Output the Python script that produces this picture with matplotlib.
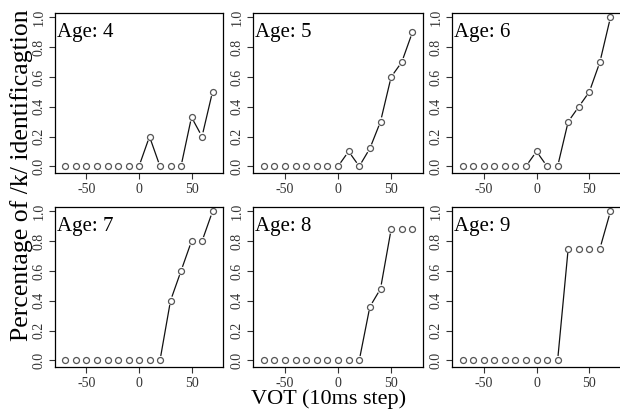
import matplotlib
matplotlib.use('Agg')
import matplotlib.pyplot as plt
import numpy as np
from matplotlib.ticker import FormatStrFormatter

plt.rcParams['font.family'] = ['Liberation Serif', 'DejaVu Serif']
plt.rcParams['axes.unicode_minus'] = False

# VOT continuum (10ms steps)
vot = [-70, -60, -50, -40, -30, -20, -10, 0, 10, 20, 30, 40, 50, 60, 70]

ages = ['4', '5', '6', '7', '8', '9']
age4 = [0, 0, 0, 0, 0, 0, 0, 0, 0.2, 0, 0, 0, 0.33, 0.2, 0.5]
age5 = [0, 0, 0, 0, 0, 0, 0, 0, 0.1, 0, 0.12, 0.3, 0.6, 0.7, 0.9]
age6 = [0, 0, 0, 0, 0, 0, 0, 0.1, 0, 0, 0.3, 0.4, 0.5, 0.7, 1.0]
age7 = [0, 0, 0, 0, 0, 0, 0, 0, 0, 0, 0.4, 0.6, 0.8, 0.8, 1.0]
age8 = [0, 0, 0, 0, 0, 0, 0, 0, 0, 0, 0.36, 0.48, 0.88, 0.88, 0.88]
age9 = [0, 0, 0, 0, 0, 0, 0, 0, 0, 0, 0.75, 0.75, 0.75, 0.75, 1.0]
series = [age4, age5, age6, age7, age8, age9]

W, H = 620, 411
col_left = [55, 253, 452]
col_width = [168, 170, 169]
row_top = [13, 207]
row_height = 160


def gapped_lines(ax, x, y, gap=5.0):
    '''draws R-style type="b" lines: segments stop short of each point'''
    pts = ax.transData.transform(np.column_stack([x, y]))
    inv = ax.transData.inverted()
    for p0, p1 in zip(pts[:-1], pts[1:]):
        d = p1 - p0
        length = np.hypot(*d)
        if length < 2 * gap + 1.5:
            continue
        u = d / length
        a = inv.transform(p0 + u * gap)
        b = inv.transform(p1 - u * gap)
        ax.plot([a[0], b[0]], [a[1], b[1]], color='#111111', lw=0.9)


fig = plt.figure(figsize=(W / 100, H / 100), dpi=100)

for i, (age, vals) in enumerate(zip(ages, series)):
    r, c = divmod(i, 3)
    left = col_left[c] / W
    bottom = 1 - (row_top[r] + row_height) / H
    ax = fig.add_axes([left, bottom, col_width[c] / W, row_height / H])
    ax.set_xlim(-80, 80)
    ax.set_ylim(-0.045, 1.03)
    ax.autoscale(False)
    gapped_lines(ax, vot, vals)
    ax.plot(vot, vals, linestyle='none', marker='o', ms=4.3, mfc='white',
            mec='#555555', mew=0.9, clip_on=False)
    ax.set_xticks([-50, 0, 50])
    ax.set_yticks([0, 0.2, 0.4, 0.6, 0.8, 1.0])
    ax.yaxis.set_major_formatter(FormatStrFormatter('%.1f'))
    ax.tick_params(direction='out', length=4, width=0.8, labelsize=10,
                   colors='#333333', pad=3)
    for lab in ax.get_yticklabels():
        lab.set_rotation(90)
        lab.set_va('center')
    for s in ax.spines.values():
        s.set_linewidth(0.9)
    ax.text(0.01, 0.94, 'Age: ' + age, transform=ax.transAxes,
            fontsize=15, va='top', ha='left')

fig.text(0.034, 0.574, 'Percentage of /k/ identificagtion', rotation=90,
         fontsize=18.5, ha='center', va='center')
fig.text(0.53, 0.029, 'VOT (10ms step)', fontsize=16, ha='center', va='center')

fig.savefig('out.png', dpi=100)
